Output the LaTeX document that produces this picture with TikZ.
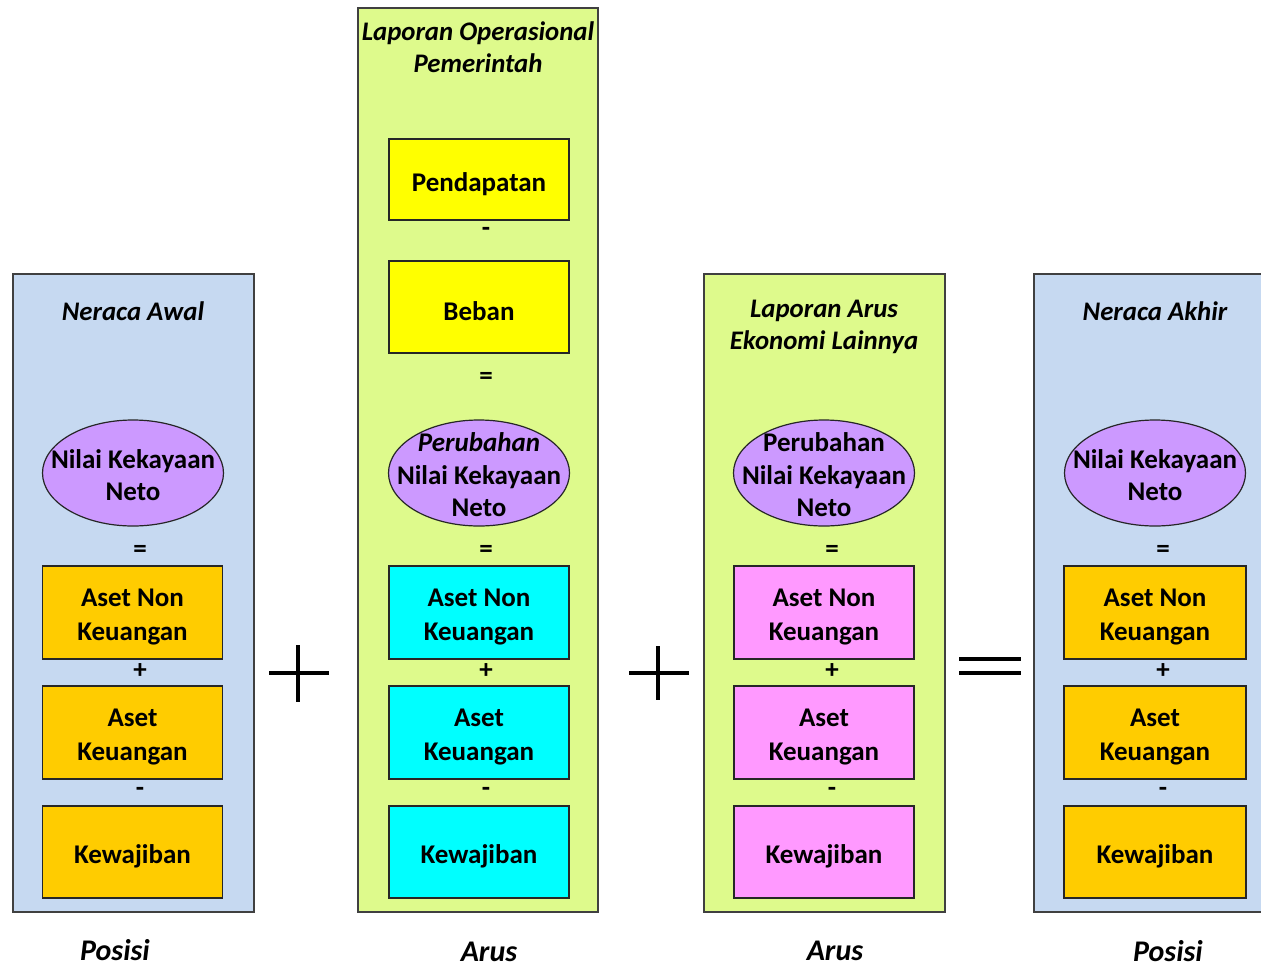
\documentclass[tikz,border=0pt]{standalone}
\usepackage{fontspec}
\setmainfont{Carlito}
\usetikzlibrary{shapes.geometric}
\definecolor{panelblue}{RGB}{198,217,241}
\definecolor{panelgreen}{RGB}{222,250,140}
\definecolor{boxorange}{RGB}{255,204,0}
\definecolor{boxyellow}{RGB}{255,255,0}
\definecolor{boxcyan}{RGB}{0,255,255}
\definecolor{boxpink}{RGB}{255,153,255}
\definecolor{ellpurple}{RGB}{204,153,255}
\definecolor{edge}{RGB}{64,64,64}
\newcommand\bxs{\rule{0pt}{27.5pt}}
\newcommand\els{\rule{0pt}{23pt}}
\tikzset{
  panel/.style={draw=edge, line width=2pt},
  itembox/.style={draw=black!85, line width=1.5pt, minimum width=180pt, minimum height=93pt,
     inner sep=0pt, align=center, font=\fontsize{27}{34}\selectfont\bfseries},
  ell/.style={ellipse, draw=black!85, line width=1.2pt, fill=ellpurple, minimum width=181pt,
     minimum height=106pt, inner xsep=-30pt, inner ysep=-20pt, align=center,
     font=\fontsize{27}{32.5}\selectfont\bfseries},
  op/.style={font=\fontsize{27}{27}\selectfont\bfseries, inner sep=0pt},
  title/.style={align=center, inner sep=0pt, font=\fontsize{26.8}{32}\selectfont\bfseries\itshape},
  foot/.style={inner sep=0pt, font=\fontsize{30}{30}\selectfont\bfseries\itshape},
  bigop/.style={line width=4.5pt, black}
}
\begin{document}
\begin{tikzpicture}[x=1pt,y=-1pt]
\useasboundingbox (0,0) rectangle (1261,967);
\clip (0,0) rectangle (1261,967);
% panels
\fill[panelblue] (13,274) rectangle (254,912);
\draw[panel] (13,274) rectangle (254,912);
\fill[panelgreen] (358,8) rectangle (598,912);
\draw[panel] (358,8) rectangle (598,912);
\fill[panelgreen] (704,274) rectangle (945,912);
\draw[panel] (704,274) rectangle (945,912);
\fill[panelblue] (1034,274) rectangle (1280,912);
\draw[panel] (1280,274) -- (1034,274) -- (1034,912) -- (1280,912);

% panel 1
\node[title] (t1) at (133,311) {Neraca Awal};
\node[ell] (e1) at (133,473) {\els Nilai Kekayaan\\Neto};
\node[op] (q1) at (140,551) {=};
\node[itembox, fill=boxorange] (a1) at (132.5,612.5) {\bxs Aset Non\\Keuangan};
\node[op] (p1) at (140,671) {+};
\node[itembox, fill=boxorange] (f1) at (132.5,732.5) {\bxs Aset\\Keuangan};
\node[op] (m1) at (140,792) {-};
\node[itembox, fill=boxorange, minimum height=92pt] (k1) at (132.5,852) {\bxs Kewajiban};

% panel 2
\node[title] (t2) at (478,47) {Laporan Operasional\\Pemerintah};
\node[itembox, fill=boxyellow, minimum height=81pt] (pd) at (479,179.5) {\bxs Pendapatan};
\node[op] (m2a) at (486,232) {-};
\node[itembox, fill=boxyellow, minimum height=92pt] (bb) at (479,307) {\bxs Beban};
\node[op] (q2a) at (486,378) {=};
\node[ell] (e2) at (479,473) {\els\textit{Perubahan}\\Nilai Kekayaan\\Neto};
\node[op] (q2) at (486,551) {=};
\node[itembox, fill=boxcyan] (a2) at (479,612.5) {\bxs Aset Non\\Keuangan};
\node[op] (p2) at (486,671) {+};
\node[itembox, fill=boxcyan] (f2) at (479,732.5) {\bxs Aset\\Keuangan};
\node[op] (m2) at (486,792) {-};
\node[itembox, fill=boxcyan, minimum height=92pt] (k2) at (479,852) {\bxs Kewajiban};

% panel 3
\node[title] (t3) at (824,327) {Laporan Arus\\Ekonomi Lainnya};
\node[ell] (e3) at (824,473) {\els Perubahan\\Nilai Kekayaan\\Neto};
\node[op] (q3) at (832,551) {=};
\node[itembox, fill=boxpink] (a3) at (824,612.5) {\bxs Aset Non\\Keuangan};
\node[op] (p3) at (832,671) {+};
\node[itembox, fill=boxpink] (f3) at (824,732.5) {\bxs Aset\\Keuangan};
\node[op] (m3) at (832,792) {-};
\node[itembox, fill=boxpink, minimum height=92pt] (k3) at (824,852) {\bxs Kewajiban};

% panel 4
\node[title] (t4) at (1155,311) {Neraca Akhir};
\node[ell] (e4) at (1155,473) {\els Nilai Kekayaan\\Neto};
\node[op] (q4) at (1163,551) {=};
\node[itembox, fill=boxorange, minimum width=182pt] (a4) at (1155,612.5) {\bxs Aset Non\\Keuangan};
\node[op] (p4) at (1163,671) {+};
\node[itembox, fill=boxorange, minimum width=182pt] (f4) at (1155,732.5) {\bxs Aset\\Keuangan};
\node[op] (m4) at (1163,792) {-};
\node[itembox, fill=boxorange, minimum width=182pt, minimum height=92pt] (k4) at (1155,852) {\bxs Kewajiban};

% big operators
\draw[bigop] (269,673) -- (329,673) (298,645) -- (298,702);
\draw[bigop] (629,673) -- (689,673) (658,646) -- (658,700);
\draw[bigop, line width=4pt] (959,659) -- (1021,659) (959,673) -- (1021,673);

% footers
\node[foot] (l1) at (115,950) {Posisi};
\node[foot] (l2) at (489,952) {Arus};
\node[foot] (l3) at (835,951) {Arus};
\node[foot] (l4) at (1168,951) {Posisi};
\end{tikzpicture}
\end{document}
